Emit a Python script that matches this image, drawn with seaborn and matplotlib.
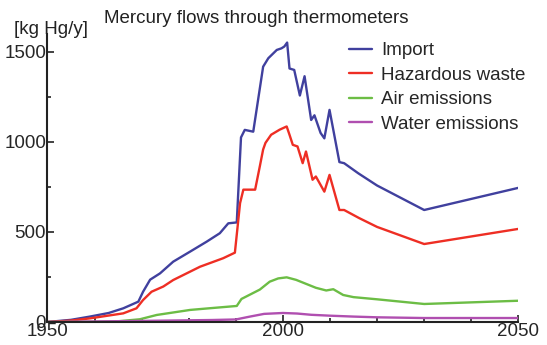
import seaborn as sns
import matplotlib.pyplot as plt
import pandas as pd
from matplotlib.ticker import MultipleLocator

# values (kg Hg per year)
import_years = [1950, 1955, 1959, 1963, 1966.1, 1969.3, 1970.3, 1971.8, 1973.9, 1976.7, 1980.3,
                1983.8, 1986.6, 1988.4, 1990.2, 1991.1, 1991.9, 1993.7, 1995.8, 1996.9, 1998.7,
                1999.7, 2000.3, 2000.9, 2001.4, 2002.4, 2003.6, 2004.6, 2006, 2006.7, 2008,
                2008.8, 2009.9, 2012, 2013, 2016, 2020, 2030, 2050]
import_vals = [0, 12, 30, 50, 76, 113, 168, 235, 270, 335, 391,
               446, 493, 548, 553, 1025, 1067, 1057, 1418, 1465, 1511,
               1520, 1530, 1552, 1408, 1400, 1258, 1365, 1122, 1148, 1050,
               1020, 1178, 888, 882, 826, 758, 622, 745]

waste_years = [1950, 1955, 1959, 1966.1, 1968.9, 1970.3, 1972.1, 1974.6, 1976.7, 1982.4, 1987.3,
               1989.8, 1990.9, 1991.6, 1994.1, 1995.1, 1995.8, 1996.3, 1997.5, 1999.3,
               2000.8, 2001.4, 2002.1, 2003.1, 2004.2, 2004.9, 2006.3, 2007, 2008.8, 2009.9,
               2012, 2013, 2016.2, 2020, 2030, 2050]
waste_vals = [0, 8, 20, 48, 76, 122, 168, 197, 233, 307, 354,
              385, 660, 735, 735, 865, 958, 995, 1040, 1068,
              1086, 1040, 984, 975, 882, 947, 790, 808, 724, 817,
              622, 622, 577, 528, 433, 517]

air_years = [1950, 1960, 1965, 1969.6, 1973.2, 1980.3, 1985.2, 1990.2, 1991.2, 1993, 1995.1,
             1997.2, 1999, 2000.8, 2002.8, 2004.9, 2007, 2009.2, 2010.7, 2012.8, 2015, 2020,
             2030, 2050]
air_vals = [0, 1, 4, 15, 39, 67, 78, 89, 128, 152, 180,
            224, 242, 248, 234, 212, 190, 175, 182, 150, 138, 126,
            100, 118]

water_years = [1950, 1970, 1985, 1990, 1993, 1996, 2000, 2003, 2006, 2010, 2015, 2020, 2030, 2050]
water_vals = [0, 6, 11, 14, 30, 45, 50, 47, 40, 35, 30, 26, 22, 22]

labels = ["Import", "Hazardous waste", "Air emissions", "Water emissions"]
colors = ["#40409e", "#ee2e24", "#6cbd45", "#b04fb0"]

frames = []
for name, yrs, vals in zip(labels,
                           [import_years, waste_years, air_years, water_years],
                           [import_vals, waste_vals, air_vals, water_vals]):
    frames.append(pd.DataFrame({"year": yrs, "value": vals, "series": name}))
df = pd.concat(frames, ignore_index=True)

sns.set_style("ticks")
plt.rcParams['font.family'] = ['Liberation Sans', 'DejaVu Sans']

fig = plt.figure(figsize=(5.47, 3.45), dpi=100)
ax = fig.add_axes([0.0868, 0.0667, 0.8608, 0.835])

sns.lineplot(data=df, x="year", y="value", hue="series", hue_order=labels,
             palette=colors, estimator=None, sort=False, linewidth=1.7, ax=ax)

ax.set_xlim(1950, 2050)
ax.set_ylim(0, 1600)
ax.set_xticks([1950, 2000, 2050])
ax.set_yticks([0, 500, 1000, 1500])
ax.xaxis.set_minor_locator(MultipleLocator(10))
ax.yaxis.set_minor_locator(MultipleLocator(250))
ax.tick_params(which="both", direction="in", labelsize=13.5, width=1.2, color="#222222", pad=1)
ax.tick_params(which="major", length=5)
ax.tick_params(which="minor", length=3)
ax.set_xlabel("")
ax.set_ylabel("")
for s in ["top", "right"]:
    ax.spines[s].set_visible(False)
for s in ["left", "bottom"]:
    ax.spines[s].set_linewidth(1.5)
    ax.spines[s].set_color("#222222")

fig.text(0.026, 0.915, "[kg Hg/y]", fontsize=13.5, color="#222222", va="center")
fig.text(0.19, 0.945, "Mercury flows through thermometers", fontsize=13.5,
         color="#222222", va="center")

ax.legend(loc="upper left", bbox_to_anchor=(0.6245, 0.997), frameon=False, fontsize=13.5,
          handlelength=1.25, handletextpad=0.45, labelspacing=0.39, borderaxespad=0)

fig.savefig("out.png", dpi=100)
